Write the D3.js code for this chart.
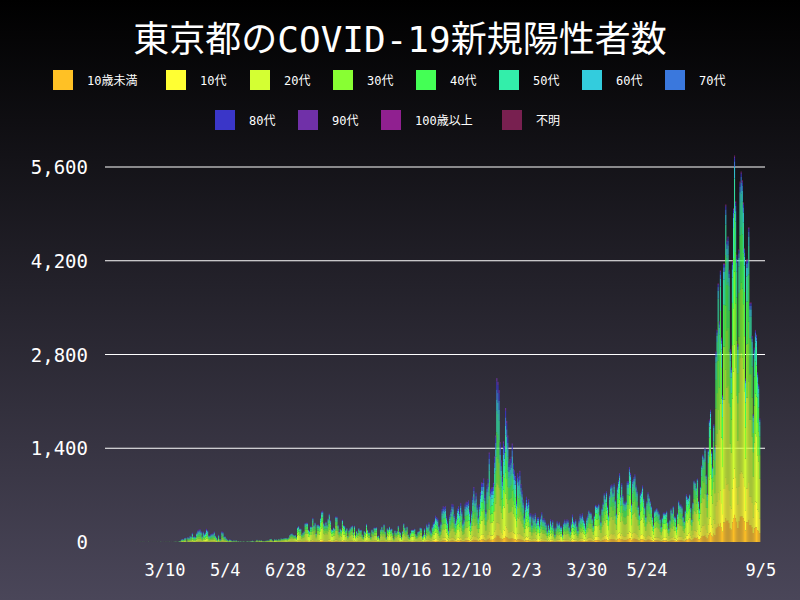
<!DOCTYPE html>
<html><head><meta charset="utf-8">
<script src="https://cdn.jsdelivr.net/npm/d3@7"></script>
<style>body{margin:0;}svg{display:block;}</style>
</head><body>
<svg id="chart" width="800" height="600"></svg>
<script>
// age groups, bottom of stack first
var groups = ["10歳未満","10代","20代","30代","40代","50代","60代","70代","80代","90代","100歳以上","不明"];
var colors = ["#ffc125","#ffff33","#d4ff33","#88ff33","#44ff55","#33eeaa","#33ccdd","#3a78dd","#3a36c8","#7030a8","#902090","#782050"];

// daily totals from 2020-01-24
var firstDay = "2020-01-24";
var totals = [
  1,0,0,0,0,0,0,1,
  0,0,1,0,0,0,0,0,0,0,0,1,2,1,0,2,3,1,3,2,1,0,1,3,1,1,0,1,2,
  0,1,2,1,1,3,2,0,2,1,3,2,2,3,1,2,1,2,4,7,3,2,16,17,41,47,40,63,68,13,78,
  66,97,89,143,83,87,81,144,178,189,197,166,91,161,127,149,201,181,107,102,123,132,134,161,103,72,39,112,47,46,
  165,154,91,87,57,38,23,39,36,22,15,28,10,30,9,14,5,10,5,5,11,3,2,14,8,8,11,15,22,14,5,
  13,34,12,28,20,26,14,13,12,18,22,25,24,47,48,27,16,41,35,39,29,48,31,55,48,54,57,60,58,54,
  67,107,124,131,111,102,106,75,224,243,206,206,119,143,165,286,293,290,188,168,237,238,366,260,295,131,266,266,250,367,463,
  472,292,258,309,263,360,429,331,197,188,222,206,389,385,260,161,207,186,339,258,248,181,213,95,182,212,236,250,148,247,100,
  170,141,211,183,187,116,77,170,149,276,187,146,148,80,191,163,220,218,226,88,98,59,195,235,195,270,160,78,212,194,
  235,196,207,143,59,177,143,171,249,162,146,78,166,284,226,184,235,116,78,139,185,186,186,201,124,102,158,170,221,215,87,
  116,209,122,270,242,294,189,157,243,293,317,393,374,352,255,180,298,493,534,522,539,391,314,186,401,481,570,561,418,311,
  372,500,533,449,584,480,299,352,572,602,595,621,480,305,460,678,822,664,736,556,392,563,748,888,884,949,708,481,856,944,1337,
  783,814,816,884,1278,1591,2447,2392,2268,1494,1219,970,1502,1433,2001,1809,1592,1204,1240,1274,1471,1175,1070,986,618,1026,973,1064,868,769,633,
  393,556,676,577,639,429,429,276,412,370,434,307,369,371,266,377,445,353,355,327,272,178,275,213,340,270,329,232,
  121,232,316,279,301,237,237,116,290,335,304,340,330,239,175,300,409,323,303,342,256,187,337,420,394,430,361,313,234,364,414,
  475,446,440,355,249,399,555,545,537,570,421,306,510,591,729,667,759,543,405,711,843,861,759,876,635,425,828,925,1027,698,
  879,708,609,591,621,907,907,1121,1032,573,925,969,1010,854,772,543,419,732,766,843,663,535,383,614,743,684,614,539,378,258,
  471,487,508,472,436,351,235,369,440,439,435,467,304,209,337,501,452,539,388,376,236,435,619,570,562,534,386,317,476,714,
  673,660,716,518,342,593,920,896,822,950,614,502,830,1149,1308,1271,1410,1008,727,1387,1832,1979,1359,1128,1763,1429,2848,3177,3865,3300,4058,
  3058,2195,4166,4166,5042,4515,4566,4066,2884,2612,4200,4989,5773,5094,4295,2962,4377,5386,5534,5405,5074,4392,2447,4220,4228,4704,3581,3581,3081,1915,2909,
  3168,3099,2539,2362,1853
];

// share of each age group by period (period start dates)
var periodStarts = ["2020-01-24","2020-06-01","2020-11-01","2021-04-01","2021-07-01"];
var shareWave1   = [0.02,0.03,0.20,0.17,0.16,0.15,0.09,0.08,0.06,0.02,0.00,0.02];
var shareSummer1 = [0.03,0.06,0.35,0.20,0.14,0.10,0.05,0.03,0.02,0.01,0.00,0.01];
var shareWinter  = [0.04,0.08,0.24,0.16,0.15,0.13,0.07,0.06,0.05,0.02,0.00,0.00];
var shareSpring2 = [0.05,0.09,0.30,0.18,0.16,0.11,0.05,0.03,0.02,0.01,0.00,0.00];
var shareSummer2 = [0.07,0.12,0.32,0.19,0.15,0.09,0.03,0.015,0.008,0.004,0.001,0.002];
var periodShares = [shareWave1,shareSummer1,shareWinter,shareSpring2,shareSummer2];

var yTicks = [0,1400,2800,4200,5600];
var xTickLabels = ["2020-03-10","2020-05-04","2020-06-28","2020-08-22","2020-10-16","2020-12-10","2021-02-03","2021-03-30","2021-05-24","2021-09-05"];

var parse = d3.timeParse("%Y-%m-%d");
var day0 = parse(firstDay);
var starts = periodStarts.map(parse);

var rows = totals.map(function(t, i) {
  var date = d3.timeDay.offset(day0, i);
  var p = d3.bisectRight(starts, date) - 1;
  var row = {date: date};
  groups.forEach(function(g, k) { row[g] = t * periodShares[p][k]; });
  return row;
});
var series = d3.stack().keys(groups)(rows);

var svg = d3.select("#chart");
var defs = svg.append("defs");
var grad = defs.append("linearGradient").attr("id","bg").attr("x1",0).attr("y1",0).attr("x2",0).attr("y2",1);
grad.append("stop").attr("offset","0%").attr("stop-color","#000000");
grad.append("stop").attr("offset","100%").attr("stop-color","#4a4659");
svg.append("rect").attr("width",800).attr("height",600).attr("fill","url(#bg)");

svg.append("text").attr("x",400).attr("y",52).attr("text-anchor","middle")
  .attr("fill","#fff").attr("font-size",36).attr("font-family","DejaVu Sans Mono, Noto Sans CJK JP")
  .text("東京都のCOVID-19新規陽性者数");

// legend
var legendPos = [[53,80],[166,80],[250,80],[333,80],[416,80],[499,80],[582,80],[665,80],
                 [215,120],[298,120],[381,120],[502,120]];
var lg = svg.append("g").selectAll("g").data(groups).join("g")
  .attr("transform", function(d,i){ return "translate(" + legendPos[i][0] + "," + legendPos[i][1] + ")"; });
lg.append("rect").attr("x",0).attr("y",-10).attr("width",20).attr("height",20)
  .attr("fill", function(d,i){ return colors[i]; });
lg.append("text").attr("x",34).attr("y",5).attr("fill","#fff").attr("font-size",12)
  .attr("font-family","DejaVu Sans Mono, Noto Sans CJK JP").text(function(d){ return d; });

var x = d3.scaleTime().domain([parse("2020-03-10"), parse("2021-05-24")]).range([165, 647]);
var y = d3.scaleLinear().domain([0,5600]).range([542,167]);
var bw = x(d3.timeDay.offset(day0,1)) - x(day0);

svg.append("g").selectAll("line").data(yTicks.slice(1)).join("line")
  .attr("x1",105).attr("x2",765).attr("y1",y).attr("y2",y)
  .attr("stroke","#fff").attr("stroke-width",1.2);

svg.append("g").selectAll("g").data(series).join("g")
  .attr("fill", function(d,i){ return colors[i]; })
  .selectAll("rect").data(function(d){ return d; }).join("rect")
  .attr("x", function(d){ return x(d.data.date) - bw/2; })
  .attr("width", bw*0.9)
  .attr("y", function(d){ return y(d[1]); })
  .attr("height", function(d){ return Math.max(0, y(d[0]) - y(d[1])); });

svg.append("g").selectAll("text").data(yTicks).join("text")
  .attr("x",88).attr("y", function(d){ return y(d) + 7; }).attr("text-anchor","end")
  .attr("fill","#fff").attr("font-size",19).attr("font-family","DejaVu Sans Mono")
  .text(d3.format(","));

svg.append("g").selectAll("text").data(xTickLabels.map(parse)).join("text")
  .attr("x", x).attr("y",576).attr("text-anchor","middle")
  .attr("fill","#fff").attr("font-size",17).attr("font-family","DejaVu Sans Mono")
  .text(d3.timeFormat("%-m/%-d"));
</script>
</body></html>
